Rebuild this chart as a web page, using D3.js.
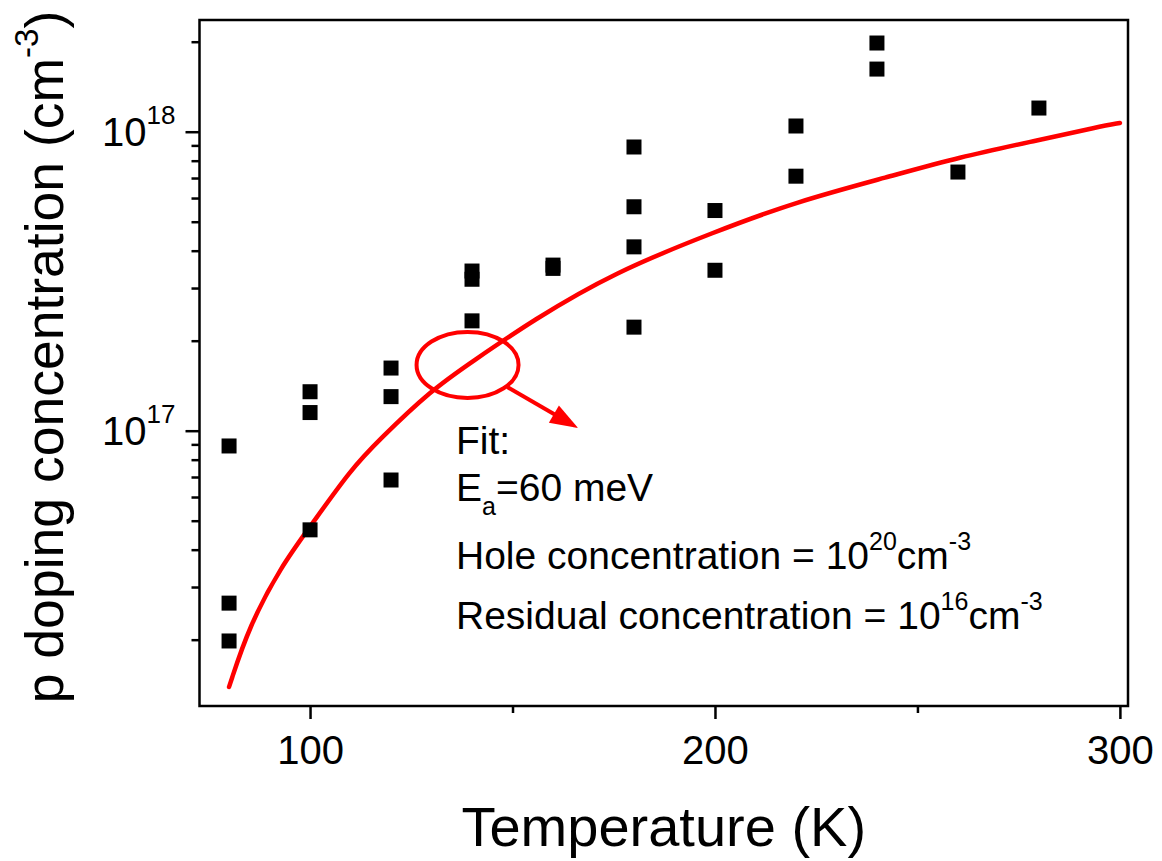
<!DOCTYPE html>
<html>
<head>
<meta charset="utf-8">
<script src="https://cdn.jsdelivr.net/npm/d3@7"></script>
<style>
  html, body { margin: 0; padding: 0; background: #fff; }
  svg { display: block; font-family: 'Liberation Sans', Arial, sans-serif; }
</style>
</head>
<body>
<div id="chart"></div>
<script>
// measured points: temperature (K) and p doping concentration (cm^-3)
const temps = [80, 80, 80, 100, 100, 100, 120, 120, 120, 140, 140, 140, 160, 160,
               180, 180, 180, 180, 200, 200, 220, 220, 240, 240, 260, 280];
const conc = [8.89e16, 2.65e16, 1.98e16, 1.35e17, 1.15e17, 4.66e16, 1.62e17, 1.30e17, 6.84e16,
              3.42e17, 3.21e17, 2.33e17, 3.58e17, 3.49e17, 8.89e17, 5.61e17, 4.12e17, 2.22e17,
              5.45e17, 3.44e17, 1.045e18, 7.1e17, 1.98e18, 1.62e18, 7.33e17, 1.20e18];

// fit curve
const fitT = [80, 85, 93, 100, 110, 117, 130, 140, 155, 175, 200, 220, 243, 260, 280, 295, 300];
const fitN = [1.39e16, 2.23e16, 3.54e16, 4.77e16, 7.4e16, 9.3e16, 1.37e17, 1.70e17, 2.34e17,
              3.38e17, 4.63e17, 5.83e17, 7.07e17, 8.2e17, 9.38e17, 1.04e18, 1.07e18];

const xMajor = [100, 200, 300];
const xMinor = [150, 250];
const yMajor = [1e17, 1e18];
const yMinor = [2e16, 3e16, 4e16, 5e16, 6e16, 7e16, 8e16, 9e16,
                2e17, 3e17, 4e17, 5e17, 6e17, 7e17, 8e17, 9e17, 2e18];
const xDomain = [72.7, 302];
const yDomain = [1.2e16, 2.364e18];

const W = 1162, H = 861;
const M = { top: 20, left: 199.5, right: 34, bottom: 155 };
const iW = W - M.left - M.right;
const iH = H - M.top - M.bottom;
const RED = '#ff0000';

const svg = d3.select('#chart').append('svg')
  .attr('width', W).attr('height', H);

const g = svg.append('g').attr('transform', `translate(${M.left},${M.top})`);

const x = d3.scaleLinear().domain(xDomain).range([0, iW]);
const y = d3.scaleLog().domain(yDomain).range([iH, 0]);

// Fit curve
const fit = fitT.map((t, i) => ({ t, n: fitN[i] }));
g.append('path')
  .datum(fit)
  .attr('fill', 'none')
  .attr('stroke', RED)
  .attr('stroke-width', 4.5)
  .attr('stroke-linecap', 'round')
  .attr('d', d3.line().x(d => x(d.t)).y(d => y(d.n)).curve(d3.curveBasis));

// Data squares
const pts = temps.map((t, i) => ({ t, n: conc[i] }));
const S = 15;
g.selectAll('rect.pt')
  .data(pts)
  .join('rect')
  .attr('class', 'pt')
  .attr('x', d => x(d.t) - S / 2)
  .attr('y', d => y(d.n) - S / 2)
  .attr('width', S).attr('height', S)
  .attr('fill', '#000');

// Highlight ellipse + arrow
const ellC = { t: 138.9, n: 1.66e17 };
const cx = x(ellC.t), cy = y(ellC.n);
g.append('ellipse')
  .attr('cx', cx).attr('cy', cy)
  .attr('rx', 51).attr('ry', 33)
  .attr('fill', 'none')
  .attr('stroke', RED)
  .attr('stroke-width', 4);

const a0 = [x(148.7), y(1.40e17)];
const a1 = [x(166.2), y(1.02e17)];
const dx = a1[0] - a0[0], dy = a1[1] - a0[1];
const len = Math.hypot(dx, dy), ux = dx / len, uy = dy / len;
const headL = 28, headW = 10;
const base = [a1[0] - ux * headL, a1[1] - uy * headL];
g.append('line')
  .attr('x1', a0[0]).attr('y1', a0[1])
  .attr('x2', base[0] + ux * 4).attr('y2', base[1] + uy * 4)
  .attr('stroke', RED).attr('stroke-width', 4);
g.append('path')
  .attr('fill', RED)
  .attr('d', `M${a1[0]},${a1[1]}L${base[0] - uy * headW},${base[1] + ux * headW}` +
             `L${base[0] + uy * headW},${base[1] - ux * headW}Z`);

// Frame
g.append('rect')
  .attr('x', 0).attr('y', 0)
  .attr('width', iW).attr('height', iH)
  .attr('fill', 'none')
  .attr('stroke', '#000')
  .attr('stroke-width', 2.5);

// X axis
const styleAxis = ax => {
  ax.select('.domain').remove();
  ax.selectAll('line').attr('stroke', '#000').attr('stroke-width', 2.5);
};
g.append('g')
  .attr('transform', `translate(0,${iH})`)
  .call(d3.axisBottom(x).tickValues(xMinor).tickSize(7).tickFormat(''))
  .call(styleAxis);
g.append('g')
  .attr('transform', `translate(0,${iH})`)
  .call(d3.axisBottom(x).tickValues(xMajor).tickSize(13).tickPadding(45).tickFormat(d3.format('d')))
  .call(styleAxis)
  .call(ax => ax.selectAll('text')
    .attr('font-size', 40).attr('fill', '#000')
    .attr('font-family', 'Liberation Sans, Arial, sans-serif')
    .attr('dy', 0));

// Y axis
g.append('g')
  .call(d3.axisLeft(y).tickValues(yMinor).tickSize(8).tickFormat(''))
  .call(styleAxis);
g.append('g')
  .call(d3.axisLeft(y).tickValues(yMajor).tickSize(14).tickFormat(''))
  .call(styleAxis)
  .call(ax => ax.selectAll('.tick').each(function (d) {
    const t = d3.select(this).select('text')
      .attr('x', -24).attr('dy', null).attr('y', 14)
      .attr('text-anchor', 'end')
      .attr('font-size', 40).attr('fill', '#000')
      .attr('font-family', 'Liberation Sans, Arial, sans-serif');
    t.append('tspan').text('10');
    t.append('tspan').attr('font-size', 26).attr('dy', -22).text(Math.round(Math.log10(d)));
  }));

// Axis titles
svg.append('text')
  .attr('x', M.left + iW / 2).attr('y', 846)
  .attr('text-anchor', 'middle')
  .attr('font-size', 56).attr('fill', '#000')
  .text('Temperature (K)');

const yt = svg.append('text')
  .attr('transform', `translate(63,${M.top + iH / 2 - 6}) rotate(-90)`)
  .attr('text-anchor', 'middle')
  .attr('font-size', 53.5).attr('fill', '#000');
yt.append('tspan').text('p doping concentration (cm');
yt.append('tspan').attr('font-size', 33).attr('dy', -25).text('-3');
yt.append('tspan').attr('dy', 25).text(')');

// Fit annotation
const ann = svg.append('g')
  .attr('font-size', 39).attr('fill', '#000');
const tx = 456;
ann.append('text').attr('x', tx).attr('y', 454).text('Fit:');
const l2 = ann.append('text').attr('x', tx).attr('y', 501);
l2.append('tspan').text('E');
l2.append('tspan').attr('font-size', 25).attr('dy', 14).text('a');
l2.append('tspan').attr('dy', -14).text('=60 meV');
const l3 = ann.append('text').attr('x', tx).attr('y', 569);
l3.append('tspan').text('Hole concentration = 10');
l3.append('tspan').attr('font-size', 25).attr('dy', -19).text('20');
l3.append('tspan').attr('dy', 19).text('cm');
l3.append('tspan').attr('font-size', 25).attr('dy', -19).text('-3');
const l4 = ann.append('text').attr('x', tx).attr('y', 629);
l4.append('tspan').text('Residual concentration = 10');
l4.append('tspan').attr('font-size', 25).attr('dy', -19).text('16');
l4.append('tspan').attr('dy', 19).text('cm');
l4.append('tspan').attr('font-size', 25).attr('dy', -19).text('-3');
</script>
</body>
</html>
